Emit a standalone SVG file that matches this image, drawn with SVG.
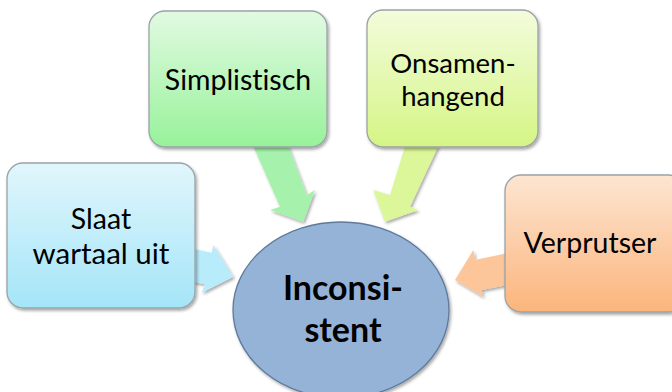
<svg xmlns="http://www.w3.org/2000/svg" width="672" height="392" viewBox="0 0 672 392">
<defs>
<linearGradient id="gBlue" x1="0" y1="0" x2="0" y2="1"><stop offset="0" stop-color="#e1f6fc"/><stop offset="1" stop-color="#a4e5f8"/></linearGradient>
<linearGradient id="gGreen" x1="0" y1="0" x2="0" y2="1"><stop offset="0" stop-color="#e2fae2"/><stop offset="1" stop-color="#97f29a"/></linearGradient>
<linearGradient id="gLime" x1="0" y1="0" x2="0" y2="1"><stop offset="0" stop-color="#f3fcdc"/><stop offset="1" stop-color="#d5f585"/></linearGradient>
<linearGradient id="gOrange" x1="0" y1="0" x2="0" y2="1"><stop offset="0" stop-color="#fde5d2"/><stop offset="1" stop-color="#fbb57c"/></linearGradient>
<filter id="sh" x="-20%" y="-20%" width="140%" height="140%"><feDropShadow dx="1.5" dy="2" stdDeviation="1.8" flood-color="#000" flood-opacity="0.35"/></filter>
</defs>
<style>
.box{stroke:#9aa3a6;stroke-width:1.3;filter:url(#sh)}
.arr{filter:url(#sh)}
.t{font-family:Lato,"Open Sans","Liberation Sans",sans-serif;font-size:28.5px;fill:#000;text-anchor:middle;font-variant-ligatures:none}
.tb{font-family:Lato,"Open Sans","Liberation Sans",sans-serif;font-size:34px;font-weight:bold;fill:#000;text-anchor:middle;font-variant-ligatures:none}
</style>
<g id="connectors">
<polygon class="arr" fill="#b8ecfb" points="190,248.3 211.7,252.7 213.3,245 233.3,276.7 201.7,292.7 205,284 190,281.7"/>
<polygon class="arr" fill="#a6f2ad" points="253.3,146 280,206.7 270,210 303.3,221.7 315,190 306.7,195 288.3,146"/>
<polygon class="arr" fill="#dcf799" points="405,146 390,195 373.3,190 385,221.7 418.3,210 410,206.7 438.3,146"/>
<polygon class="arr" fill="#fcc59a" points="507,253.3 475,260 473.3,250 455,280 483.3,296.7 481.7,290 507,285"/>
</g>
<g id="n-slaat">
<rect class="box" x="7" y="163" width="188" height="145" rx="16" fill="url(#gBlue)"/>
<text class="t"><tspan x="101" y="229">Slaat</tspan><tspan x="101" y="264" style="font-size:29.5px">wartaal uit</tspan></text>
</g>
<g id="n-simplistisch">
<rect class="box" x="149" y="11" width="178" height="136" rx="16" fill="url(#gGreen)"/>
<text class="t" x="238" y="90">Simplistisch</text>
</g>
<g id="n-onsamenhangend">
<rect class="box" x="367" y="10" width="171" height="137" rx="16" fill="url(#gLime)"/>
<text class="t" style="font-size:27.5px"><tspan x="453" y="73">Onsamen-</tspan><tspan x="453" y="106">hangend</tspan></text>
</g>
<g id="n-verprutser">
<rect class="box" x="505" y="175" width="180" height="137" rx="16" fill="url(#gOrange)"/>
<text class="t" x="590" y="253">Verprutser</text>
</g>
<g id="n-inconsistent">
<ellipse cx="341" cy="310" rx="108" ry="88" fill="#95b3d7" stroke="#5f7a9c" stroke-width="1.3" filter="url(#sh)"/>
<text class="tb"><tspan x="343" y="300">Inconsi-</tspan><tspan x="343" y="342">stent</tspan></text>
</g>
</svg>
